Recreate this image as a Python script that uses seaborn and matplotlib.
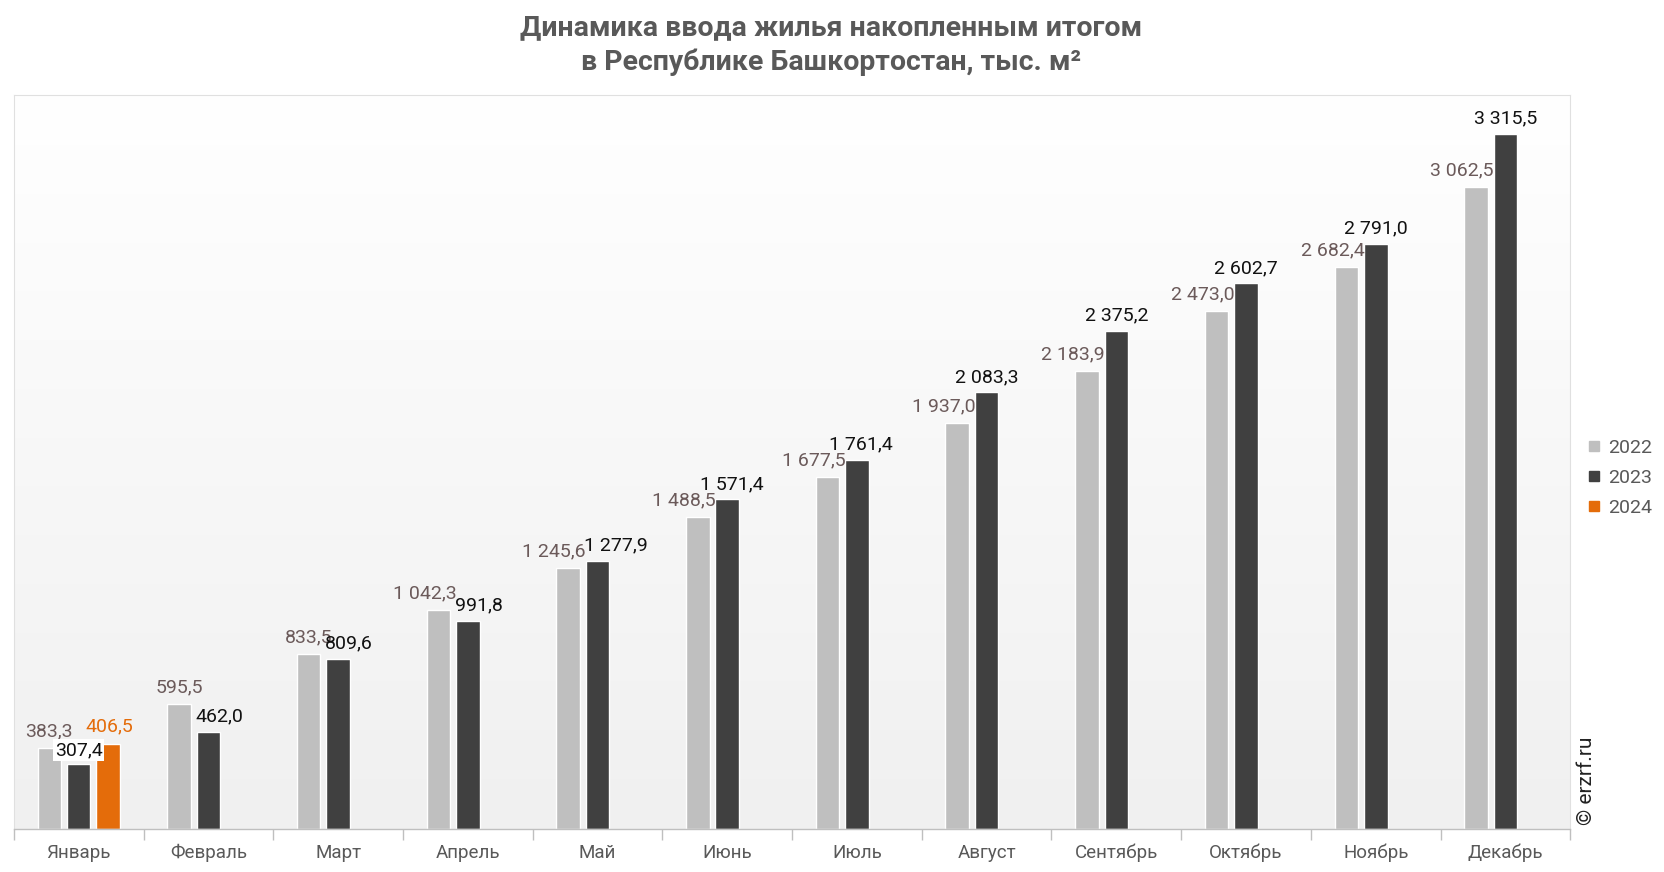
import numpy as np
import pandas as pd
import matplotlib
matplotlib.use("Agg")
import matplotlib.pyplot as plt
from matplotlib.lines import Line2D
from matplotlib.colors import LinearSegmentedColormap
import seaborn as sns

# data
months = ["Январь", "Февраль", "Март", "Апрель", "Май", "Июнь",
          "Июль", "Август", "Сентябрь", "Октябрь", "Ноябрь", "Декабрь"]
years = ["2022", "2023", "2024"]
vals_2022 = [383.3, 595.5, 833.5, 1042.3, 1245.6, 1488.5,
             1677.5, 1937.0, 2183.9, 2473.0, 2682.4, 3062.5]
vals_2023 = [307.4, 462.0, 809.6, 991.8, 1277.9, 1571.4,
             1761.4, 2083.3, 2375.2, 2602.7, 2791.0, 3315.5]
vals_2024 = [406.5]

colors = {"2022": "#bfbfbf", "2023": "#404040", "2024": "#e46c0a"}
label_colors = {"2022": "#6b5a5a", "2023": "#111111", "2024": "#e46c0a"}

rows = []
for yr, vals in zip(years, [vals_2022, vals_2023, vals_2024]):
    for m, v in zip(months, vals):
        rows.append({"month": m, "year": yr, "value": v})
df = pd.DataFrame(rows)

sns.set_style("white")
plt.rcParams["font.family"] = ["Roboto", "DejaVu Sans"]

fig = plt.figure(figsize=(16.64, 8.72), dpi=100)
ax = fig.add_axes([0.0083, 0.0497, 0.9354, 0.8408])

# gradient background
grad = LinearSegmentedColormap.from_list("bg", ["#f0f0f0", "#ffffff"])
ax.imshow(np.linspace(0, 1, 256).reshape(-1, 1)[::-1], cmap=grad, aspect="auto",
          extent=[0, 1, 0, 1], transform=ax.transAxes, zorder=0)

sns.barplot(data=df, x="month", y="value", hue="year", order=months,
            hue_order=years, palette=colors, width=0.68, gap=0.2,
            saturation=1, legend=False, ax=ax, zorder=2)

ax.set_xlim(-0.5, 11.5)
ax.set_ylim(0, 3500)


def fmt(v):
    s = f"{v:,.1f}"
    return s.replace(",", " ").replace(".", ",")


# data labels (nudged sideways like the original's auto placement)
for i in range(len(months)):
    v22 = vals_2022[i]
    v23 = vals_2023[i]
    has24 = i < len(vals_2024)
    p22 = ax.containers[0].patches[i]
    p23 = ax.containers[1].patches[i]

    dx22 = -10 if v22 >= 1000 else 0
    ax.annotate(fmt(v22), (p22.get_x() + p22.get_width() / 2, v22),
                xytext=(dx22, 12), textcoords="offset points",
                ha="center", va="center", fontsize=14,
                color=label_colors["2022"], zorder=4)

    diff = v23 - v22
    if has24:
        dx23, dy23, box = 0, 10, dict(boxstyle="square,pad=0.1", fc="white", ec="none")
    else:
        dx23 = 13 if diff < 50 else (3 if diff < 100 else 0)
        if diff < 0:
            dx23 = 8
        dy23, box = 11, None
    ax.annotate(fmt(v23), (p23.get_x() + p23.get_width() / 2, v23),
                xytext=(dx23, dy23), textcoords="offset points",
                ha="center", va="center", fontsize=14,
                color=label_colors["2023"], zorder=4, bbox=box)

    if has24:
        p24 = ax.containers[2].patches[i]
        ax.annotate(fmt(vals_2024[i]), (p24.get_x() + p24.get_width() / 2, vals_2024[i]),
                    xytext=(1, 12), textcoords="offset points",
                    ha="center", va="center", fontsize=14,
                    color=label_colors["2024"], zorder=4)

# axes styling
ax.set_xlabel("")
ax.set_ylabel("")
ax.set_yticks([])
ax.set_xticks(range(12))
ax.set_xticklabels(months, fontsize=13.5, color="#595959")
ax.set_xticks(np.arange(-0.5, 12, 1), minor=True)
ax.tick_params(axis="x", which="major", length=0, pad=11)
ax.tick_params(axis="x", which="minor", length=8, width=1, color="#bfbfbf",
               direction="out", bottom=True)
for side in ["left", "top", "right"]:
    ax.spines[side].set_color("#e0e0e0")
    ax.spines[side].set_linewidth(0.8)
ax.spines["bottom"].set_color("#bfbfbf")
ax.spines["bottom"].set_linewidth(1)

# title
fig.text(0.4995, 0.948,
         "Динамика ввода жилья накопленным итогом\nв Республике Башкортостан, тыс. м²",
         ha="center", va="center", fontsize=20.5, fontweight="bold",
         color="#595959", linespacing=1.36)

# legend
handles = [Line2D([0], [0], marker="s", linestyle="", markersize=7,
                  markerfacecolor=colors[y], markeredgecolor=colors[y])
           for y in years]
fig.legend(handles, years, loc="center left", bbox_to_anchor=(0.944, 0.452),
           frameon=False, fontsize=14, handlelength=0.6, handletextpad=0.4,
           labelspacing=0.62, labelcolor="#595959")

# watermark
fig.text(0.9536, 0.105, "© erzrf.ru", rotation=90, ha="center", va="center",
         fontsize=15, color="#222222")

fig.savefig("out.png", dpi=100)
